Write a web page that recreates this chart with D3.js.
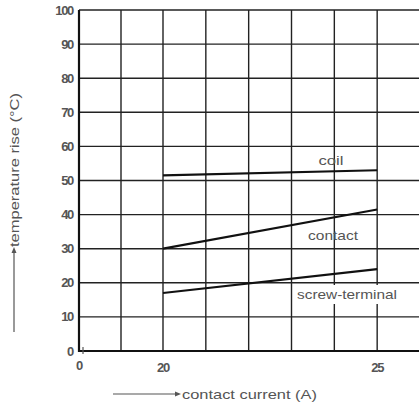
<!DOCTYPE html>
<html>
<head>
<meta charset="utf-8">
<script src="https://cdn.jsdelivr.net/npm/d3@7"></script>
<style>
  html, body { margin: 0; padding: 0; background: #fff; }
  svg { display: block; }
  text { font-family: "Liberation Sans", Arial, sans-serif; fill: #555; }
</style>
</head>
<body>
<svg id="chart" width="419" height="405"></svg>
<script>
// Temperature rise versus contact current, per part
const seriesNames = ["coil", "contact", "screw-terminal"];
const currentPoints = [20, 25];
const coilRise = [51.5, 53];
const contactRise = [30, 41.5];
const screwTerminalRise = [17, 24];

const xTickLabels = [0, 20, 25];
const xGridValues = [10, 20, 21, 22, 23, 24, 25, 26];
const yTickValues = [0, 10, 20, 30, 40, 50, 60, 70, 80, 90, 100];

const svg = d3.select("#chart");

// broken x axis: 0..20 compressed into two cells, then one cell per ampere
const x = d3.scaleLinear().domain([0, 20, 26]).range([79, 163, 420]);
const y = d3.scaleLinear().domain([0, 100]).range([351, 10]);

// grid
const grid = svg.append("g").attr("stroke", "#222").attr("stroke-width", 1.4);
grid.selectAll("line.h").data(yTickValues.slice(1)).join("line")
  .attr("x1", x(0)).attr("x2", 419)
  .attr("y1", d => y(d)).attr("y2", d => y(d));
grid.selectAll("line.v").data(xGridValues).join("line")
  .attr("x1", d => x(d)).attr("x2", d => x(d))
  .attr("y1", y(0)).attr("y2", y(100));

// axes frame (left and bottom heavier)
svg.append("line").attr("x1", x(0)).attr("x2", x(0)).attr("y1", y(0) + 1).attr("y2", y(100))
  .attr("stroke", "#111").attr("stroke-width", 2.2);
svg.append("line").attr("x1", x(0)).attr("x2", 419).attr("y1", y(0)).attr("y2", y(0))
  .attr("stroke", "#111").attr("stroke-width", 2.2);
// small mark at origin
svg.append("line").attr("x1", x(0) + 4).attr("x2", x(0) + 4).attr("y1", y(0) - 4).attr("y2", y(0) + 3)
  .attr("stroke", "#555").attr("stroke-width", 1.2);

// y tick labels
svg.append("g").selectAll("text").data(yTickValues).join("text")
  .attr("x", 73).attr("y", d => y(d) + 4.5)
  .attr("text-anchor", "end").attr("font-size", 13).attr("font-weight", "bold")
  .attr("letter-spacing", -1.3)
  .text(d => d);

// x tick labels
svg.append("g").selectAll("text").data(xTickLabels).join("text")
  .attr("x", d => x(d)).attr("y", d => d === 0 ? 370 : 372)
  .attr("text-anchor", "middle").attr("font-size", 13).attr("font-weight", "bold")
  .attr("letter-spacing", -1.3)
  .text(d => d);

// series lines
const series = [coilRise, contactRise, screwTerminalRise];
const line = d3.line().x((d, i) => x(currentPoints[i])).y(d => y(d));
svg.append("g").selectAll("path").data(series).join("path")
  .attr("d", d => line(d))
  .attr("fill", "none").attr("stroke", "#111").attr("stroke-width", 2.2);

// series labels
const labelPos = [
  { x: 331, y: 165, w: 25, bg: false },
  { x: 333, y: 240, w: 50, bg: false },
  { x: 347, y: 299, w: 100, bg: true }
];
const labels = svg.append("g");
seriesNames.forEach((name, i) => {
  const p = labelPos[i];
  if (p.bg) {
    labels.append("rect").attr("x", p.x - p.w / 2 - 2).attr("y", p.y - 14)
      .attr("width", p.w + 4).attr("height", 19).attr("fill", "#fff");
  }
  labels.append("text").attr("x", p.x - p.w / 2).attr("y", p.y)
    .attr("font-size", 13)
    .attr("textLength", p.w).attr("lengthAdjust", "spacingAndGlyphs")
    .text(name);
});

// y axis title with arrow
const arrowGrey = "#555";
svg.append("line").attr("x1", 14).attr("x2", 14).attr("y1", 332).attr("y2", 252)
  .attr("stroke", arrowGrey).attr("stroke-width", 1.2);
svg.append("path").attr("d", "M14,247 L11.5,253 L16.5,253 Z").attr("fill", arrowGrey);
svg.append("text")
  .attr("transform", "translate(19,247) rotate(-90)")
  .attr("font-size", 13)
  .attr("textLength", 154).attr("lengthAdjust", "spacingAndGlyphs")
  .text("temperature rise (°C)");

// x axis title with arrow
svg.append("line").attr("x1", 113).attr("x2", 176).attr("y1", 394).attr("y2", 394)
  .attr("stroke", arrowGrey).attr("stroke-width", 1.2);
svg.append("path").attr("d", "M181,394 L175,391.5 L175,396.5 Z").attr("fill", arrowGrey);
svg.append("text").attr("x", 182).attr("y", 398.5)
  .attr("font-size", 13)
  .attr("textLength", 135).attr("lengthAdjust", "spacingAndGlyphs")
  .text("contact current (A)");
</script>
</body>
</html>
